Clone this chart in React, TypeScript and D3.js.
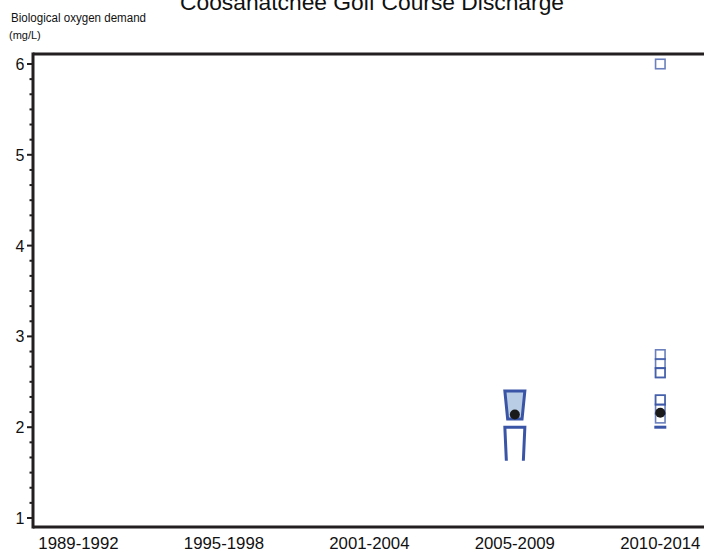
import React from 'react';
import * as d3 from 'd3';

const categories = ['1989-1992', '1995-1998', '2001-2004', '2005-2009', '2010-2014'];
const yTicks = [1, 2, 3, 4, 5, 6];

// notched box summaries (category, q1, q3, notchLow, notchHigh, mean)
const boxCategories = ['2005-2009', '2010-2014'];
const boxQ1 = [2.0, 2.0];
const boxQ3 = [2.4, 2.0];
const boxNotchLow = [1.63, 2.0];
const boxNotchHigh = [2.09, 2.0];
const boxMean = [2.14, 2.16];

// individual observations plotted as squares
const pointCategory = ['2010-2014', '2010-2014', '2010-2014', '2010-2014', '2010-2014', '2010-2014', '2010-2014', '2010-2014', '2010-2014'];
const pointValue = [6.0, 2.8, 2.7, 2.6, 2.6, 2.3, 2.3, 2.2, 2.1];

const W = 704;
const H = 554;
const AXIS = '#231f20';
const BLUE = '#3a55a6';
const FILL = '#b9cde5';
const FONT = '"Liberation Sans", Arial, Helvetica, sans-serif';

export default function App() {
  const x = d3.scalePoint<string>().domain(categories).range([78.5, 660.3]);
  const y = d3.scaleLinear().domain([1, 6]).range([518, 64]);
  const left = 33;
  const right = 707;
  const top = y(6.11);
  const bottom = y(0.9);

  const minor: number[] = [];
  for (let i = 0; i < yTicks.length - 1; i++) {
    for (let k = 1; k < 6; k++) minor.push(yTicks[i] + k / 6);
  }

  return (
    <div style={{ position: 'fixed', left: 0, top: 0, width: W, height: H, overflow: 'hidden' }}>
      <svg width={W} height={H} style={{ display: 'block', background: '#fff' }}>
        <text x={372} y={9.5} textAnchor="middle" fontFamily={FONT} fontSize={22.5} fill="#111"
          textLength={384} lengthAdjust="spacingAndGlyphs">
          Coosahatchee Golf Course Discharge
        </text>
        <text x={11} y={22} fontFamily={FONT} fontSize={12.5} fill="#111"
          textLength={135} lengthAdjust="spacingAndGlyphs">Biological oxygen demand</text>
        <text x={9} y={39} fontFamily={FONT} fontSize={11} fill="#111">(mg/L)</text>

        {/* axes frame */}
        <line x1={left} x2={right} y1={top} y2={top} stroke={AXIS} strokeWidth={3} />
        <line x1={left} x2={right} y1={bottom} y2={bottom} stroke={AXIS} strokeWidth={3} />
        <line x1={left} x2={left} y1={top - 1.5} y2={bottom + 1.5} stroke={AXIS} strokeWidth={3} />

        {yTicks.map((t) => (
          <g key={'t' + t}>
            <line x1={left - 6} x2={left} y1={y(t)} y2={y(t)} stroke={AXIS} strokeWidth={2} />
            <text x={24.5} y={y(t) + 6} textAnchor="end" fontFamily={FONT} fontSize={16} fill="#111">
              {t}
            </text>
          </g>
        ))}
        {minor.map((t, i) => (
          <line key={'m' + i} x1={left - 3.5} x2={left} y1={y(t)} y2={y(t)} stroke={AXIS} strokeWidth={2} />
        ))}
        {categories.map((c) => (
          <text key={c} x={x(c)} y={548.5} textAnchor="middle" fontFamily={FONT} fontSize={16.8} fill="#111">
            {c}
          </text>
        ))}

        {/* boxes */}
        {boxCategories.map((c, i) => {
          const cx = x(c) as number;
          const flat = boxQ3[i] === boxQ1[i];
          if (flat) {
            return (
              <line key={c} x1={cx - 6} x2={cx + 6} y1={y(boxQ1[i])} y2={y(boxQ1[i])} stroke={BLUE} strokeWidth={3} />
            );
          }
          const hw = 10;
          const nw = 7.2;
          const trap = `M${cx - hw},${y(boxQ3[i])}L${cx + hw},${y(boxQ3[i])}L${cx + nw},${y(boxNotchHigh[i])}L${cx - nw},${y(boxNotchHigh[i])}Z`;
          const legs = `M${cx - hw + 1.5},${y(boxNotchLow[i])}L${cx - hw},${y(boxQ1[i])}L${cx + hw},${y(boxQ1[i])}L${cx + hw - 1.5},${y(boxNotchLow[i])}`;
          return (
            <g key={c}>
              <path d={trap} fill={FILL} stroke={BLUE} strokeWidth={3} strokeLinejoin="miter" />
              <path d={legs} fill="none" stroke={BLUE} strokeWidth={3} />
            </g>
          );
        })}

        {/* observations */}
        {pointValue.map((v, i) => (
          <rect
            key={'p' + i}
            x={(x(pointCategory[i]) as number) - 4.75}
            y={y(v) - 4.75}
            width={9.5}
            height={9.5}
            fill="none"
            stroke={BLUE}
            strokeOpacity={0.75}
            strokeWidth={1.6}
          />
        ))}

        {/* means */}
        {boxCategories.map((c, i) => (
          <circle key={'mean' + c} cx={x(c) as number} cy={y(boxMean[i])} r={5} fill="#1a1a1a" />
        ))}
      </svg>
    </div>
  );
}
